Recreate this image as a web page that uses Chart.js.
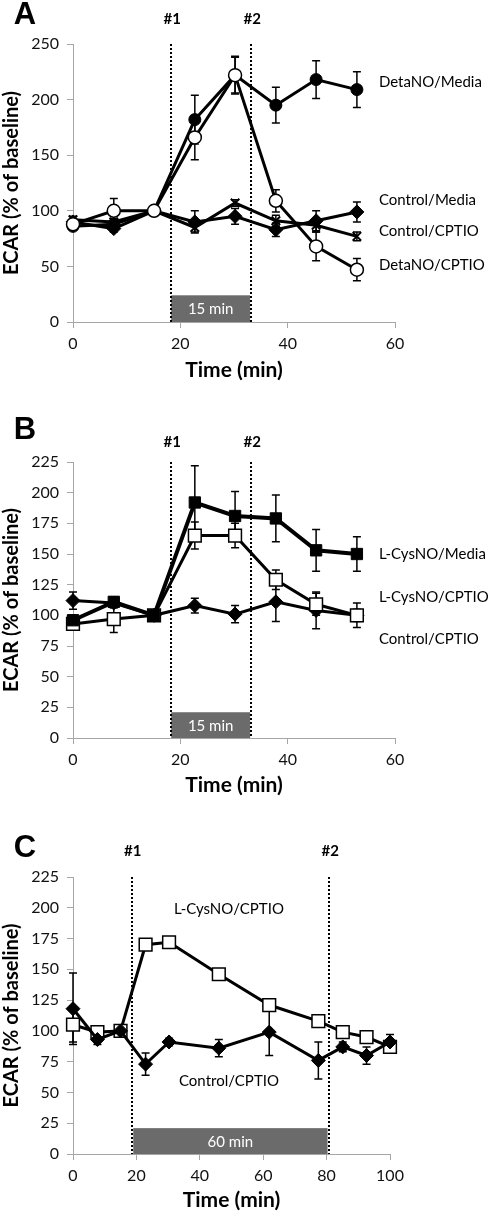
<!DOCTYPE html>
<html>
<head>
<meta charset="utf-8">
<script src="https://cdn.jsdelivr.net/npm/chart.js@4/dist/chart.umd.min.js"></script>
<style>
  body { margin: 0; background: #fff; width: 490px; height: 1213px; position: relative; overflow: hidden; }
  canvas { position: absolute; left: 0; }
</style>
</head>
<body>
<canvas id="chartA" width="490" height="390" style="top:0px"></canvas>
<canvas id="chartB" width="490" height="410" style="top:390px"></canvas>
<canvas id="chartC" width="490" height="413" style="top:800px"></canvas>
<script>
// ---- DATA ----
// panel A
const timesA = [0, 7.6, 15.1, 22.7, 30.2, 37.8, 45.3, 52.9];
const detaMedia = [86, 88, 100, 182, 222, 195, 218, 209];
const detaMediaErr = [3, 3, 0, 22, 17, 16, 17, 16];
const detaCptio = [88, 100, 100, 166, 222, 109, 68, 47];
const detaCptioErr = [3, 11, 0, 20, 16, 10, 13, 10];
const ctrlMediaA = [90, 84, 100, 90, 95, 83, 91, 99];
const ctrlMediaAErr = [3, 3, 0, 10, 7, 6, 9, 9];
const ctrlCptioA = [92, 90, 100, 85, 107, 91, 87, 77];
const ctrlCptioAErr = [3, 3, 0, 4, 3, 5, 6, 4];

// panel B
const timesB = [0, 7.6, 15.1, 22.7, 30.2, 37.8, 45.3, 52.9];
const lcysMedia = [96, 111, 100, 192, 181, 179, 153, 150];
const lcysMediaErr = [4, 4, 0, 30, 20, 19, 17, 14];
const lcysCptioB = [93, 97, 100, 165, 165, 129, 109, 100];
const lcysCptioBErr = [3, 11, 0, 11, 10, 8, 9, 10];
const ctrlCptioB = [112, 110, 100, 108, 101, 111, 104, 100];
const ctrlCptioBErr = [7, 4, 0, 6, 7, 16, 15, 5];

// panel C
const timesC = [0, 7.7, 15, 22.9, 30.3, 46, 61.9, 77.4, 85.1, 92.6, 100];
const lcysCptioC = [105, 99, 100, 170, 172, 146, 121, 108, 99, 95, 87];
const lcysCptioCErr = [14, 3, 0, 3, 3, 3, 3, 3, 3, 3, 3];
const ctrlCptioC = [118, 93, 100, 73, 91, 86, 99, 76, 87, 80, 91];
const ctrlCptioCErr = [29, 4, 0, 9, 3, 7, 19, 15, 4, 7, 6];

// injection marks (#1, #2)
const injectAB = [18.3, 33.2];
const injectC = [18.5, 80.8];

const FONT = 'Lato, "Open Sans", sans-serif';

// marker styles
const styles = {
  filledCircle: { pointStyle: 'circle', pointRadius: 6, pointBackgroundColor: '#000', pointBorderColor: '#000', pointBorderWidth: 1 },
  openCircle:   { pointStyle: 'circle', pointRadius: 6.5, pointBackgroundColor: '#fff', pointBorderColor: '#000', pointBorderWidth: 1.5 },
  diamond:      { pointStyle: 'rectRot', pointRadius: 7, pointBackgroundColor: '#000', pointBorderColor: '#000', pointBorderWidth: 1 },
  xMark:        { pointStyle: 'crossRot', pointRadius: 6, pointBackgroundColor: '#000', pointBorderColor: '#000', pointBorderWidth: 2 },
  filledSquare: { pointStyle: 'rect', pointRadius: 8, pointBackgroundColor: '#000', pointBorderColor: '#000', pointBorderWidth: 1 },
  openSquare:   { pointStyle: 'rect', pointRadius: 9, pointBackgroundColor: '#fff', pointBorderColor: '#000', pointBorderWidth: 1.5 }
};

function series(label, times, values, errors, style, width) {
  return Object.assign({
    label: label,
    data: times.map((t, i) => ({ x: t, y: values[i] })),
    errors: errors,
    borderColor: '#000',
    borderWidth: width || 3,
    tension: 0,
    fill: false,
    clip: false
  }, styles[style]);
}

// error bars drawn under the markers
const errorBars = {
  id: 'errorBars',
  beforeDatasetsDraw(chart) {
    const { ctx, scales: { x, y } } = chart;
    ctx.save();
    ctx.strokeStyle = '#000';
    ctx.lineWidth = 1.5;
    chart.data.datasets.forEach(ds => {
      if (!ds.errors) return;
      ds.data.forEach((p, i) => {
        const e = ds.errors[i];
        if (!e) return;
        const px = x.getPixelForValue(p.x);
        const y1 = y.getPixelForValue(p.y + e);
        const y2 = y.getPixelForValue(p.y - e);
        ctx.beginPath();
        ctx.moveTo(px, y1); ctx.lineTo(px, y2);
        ctx.moveTo(px - 4, y1); ctx.lineTo(px + 4, y1);
        ctx.moveTo(px - 4, y2); ctx.lineTo(px + 4, y2);
        ctx.stroke();
      });
    });
    ctx.restore();
  }
};

// dotted injection lines, grey exposure box, panel letter and series labels
function makeDecor(cfg) {
  return {
    id: 'decor' + cfg.letter,
    beforeDatasetsDraw(chart) {
      const { ctx, chartArea, scales: { x, y } } = chart;
      ctx.save();
      // box
      const bx1 = x.getPixelForValue(cfg.box.from), bx2 = x.getPixelForValue(cfg.box.to);
      const by1 = y.getPixelForValue(cfg.box.top), by2 = y.getPixelForValue(0);
      ctx.fillStyle = '#6b6b6b';
      ctx.fillRect(bx1, by1, bx2 - bx1, by2 - by1);
      ctx.fillStyle = '#fff';
      ctx.font = '15px ' + FONT;
      ctx.textAlign = 'center';
      ctx.textBaseline = 'middle';
      ctx.fillText(cfg.box.text, (bx1 + bx2) / 2, (by1 + by2) / 2 + 1);
      // dotted lines
      ctx.strokeStyle = '#000';
      ctx.lineWidth = 2;
      ctx.setLineDash([2, 2]);
      cfg.marks.forEach(t => {
        const px = Math.round(x.getPixelForValue(t));
        ctx.beginPath();
        ctx.moveTo(px, chartArea.top);
        ctx.lineTo(px, chartArea.bottom);
        ctx.stroke();
      });
      ctx.restore();
    },
    afterDraw(chart) {
      const { ctx, scales: { x, y } } = chart;
      ctx.save();
      ctx.fillStyle = '#000';
      ctx.textBaseline = 'middle';
      // panel letter
      ctx.font = 'bold 31px "Liberation Sans", Arial, sans-serif';
      ctx.textAlign = 'center';
      ctx.fillText(cfg.letter, 25, cfg.letterY);
      // #1 #2
      ctx.font = 'bold 15px ' + FONT;
      cfg.marks.forEach((t, i) => {
        ctx.fillText('#' + (i + 1), x.getPixelForValue(t) + 1, cfg.markY);
      });
      // series labels
      ctx.font = '15px ' + FONT;
      cfg.labels.forEach(l => {
        ctx.textAlign = l.align;
        ctx.fillText(l.text, x.getPixelForValue(l.x), y.getPixelForValue(l.y));
      });
      ctx.restore();
    }
  };
}

function makeChart(id, datasets, xMax, yMax, yStep, geo, decor) {
  const axisColor = '#a6a6a6';
  return new Chart(document.getElementById(id), {
    type: 'line',
    data: { datasets: datasets },
    options: {
      responsive: false,
      animation: false,
      events: [],
      layout: { padding: { top: geo.top, right: geo.right, left: 0, bottom: 0 } },
      plugins: { legend: { display: false }, tooltip: { enabled: false } },
      scales: {
        x: {
          type: 'linear', min: 0, max: xMax,
          ticks: { stepSize: 20, color: '#111', font: { family: FONT, size: 16 }, padding: 6 },
          grid: { display: true, drawOnChartArea: false, drawTicks: true, tickLength: 6, color: axisColor },
          border: { display: true, color: axisColor },
          title: { display: true, text: 'Time (min)', color: '#000', font: { family: FONT, size: 21, weight: 'bold' }, padding: { top: 0, bottom: geo.titleBottom } },
          afterFit: s => { s.height = geo.xHeight; }
        },
        y: {
          min: 0, max: yMax,
          ticks: { stepSize: yStep, color: '#111', font: { family: FONT, size: 16 }, padding: 8 },
          grid: { display: true, drawOnChartArea: false, drawTicks: true, tickLength: 6, color: axisColor },
          border: { display: true, color: axisColor },
          title: { display: true, text: 'ECAR (% of baseline)', color: '#000', font: { family: FONT, size: 20, weight: 'bold' }, padding: { top: 0, bottom: 0 } },
          afterFit: s => { s.width = 73; }
        }
      }
    },
    plugins: [errorBars, makeDecor(decor)]
  });
}

// Panel A
makeChart('chartA', [
  series('DetaNO/CPTIO', timesA, detaCptio, detaCptioErr, 'openCircle'),
  series('DetaNO/Media', timesA, detaMedia, detaMediaErr, 'filledCircle'),
  series('Control/Media', timesA, ctrlMediaA, ctrlMediaAErr, 'diamond'),
  series('Control/CPTIO', timesA, ctrlCptioA, ctrlCptioAErr, 'xMark')
], 60, 250, 50,
  { top: 44, right: 95, xHeight: 68, titleBottom: 7 },
  { letter: 'A', letterY: 15, marks: injectAB, markY: 19,
    box: { from: 18.3, to: 33.0, top: 24, text: '15 min' },
    labels: [
      { text: 'DetaNO/Media', x: 57, y: 216, align: 'left' },
      { text: 'Control/Media', x: 57, y: 110, align: 'left' },
      { text: 'Control/CPTIO', x: 57, y: 82, align: 'left' },
      { text: 'DetaNO/CPTIO', x: 57, y: 51, align: 'left' }
    ] });

// Panel B
makeChart('chartB', [
  series('L-CysNO/Media', timesB, lcysMedia, lcysMediaErr, 'filledSquare', 4),
  series('L-CysNO/CPTIO', timesB, lcysCptioB, lcysCptioBErr, 'openSquare'),
  series('Control/CPTIO', timesB, ctrlCptioB, ctrlCptioBErr, 'diamond')
], 60, 225, 25,
  { top: 72, right: 95, xHeight: 62, titleBottom: 2 },
  { letter: 'B', letterY: 40, marks: injectAB, markY: 52,
    box: { from: 18.3, to: 33.0, top: 21, text: '15 min' },
    labels: [
      { text: 'L-CysNO/Media', x: 57, y: 150, align: 'left' },
      { text: 'L-CysNO/CPTIO', x: 57, y: 115, align: 'left' },
      { text: 'Control/CPTIO', x: 57, y: 80.5, align: 'left' }
    ] });

// Panel C
makeChart('chartC', [
  series('Control/CPTIO', timesC, ctrlCptioC, ctrlCptioCErr, 'diamond'),
  series('L-CysNO/CPTIO', timesC, lcysCptioC, lcysCptioCErr, 'openSquare')
], 100, 225, 25,
  { top: 77, right: 100, xHeight: 59, titleBottom: 0 },
  { letter: 'C', letterY: 48, marks: injectC, markY: 51,
    box: { from: 19.0, to: 80.3, top: 21, text: '60 min' },
    labels: [
      { text: 'L-CysNO/CPTIO', x: 49.2, y: 199, align: 'center' },
      { text: 'Control/CPTIO', x: 49.2, y: 59, align: 'center' }
    ] });
</script>
</body>
</html>
